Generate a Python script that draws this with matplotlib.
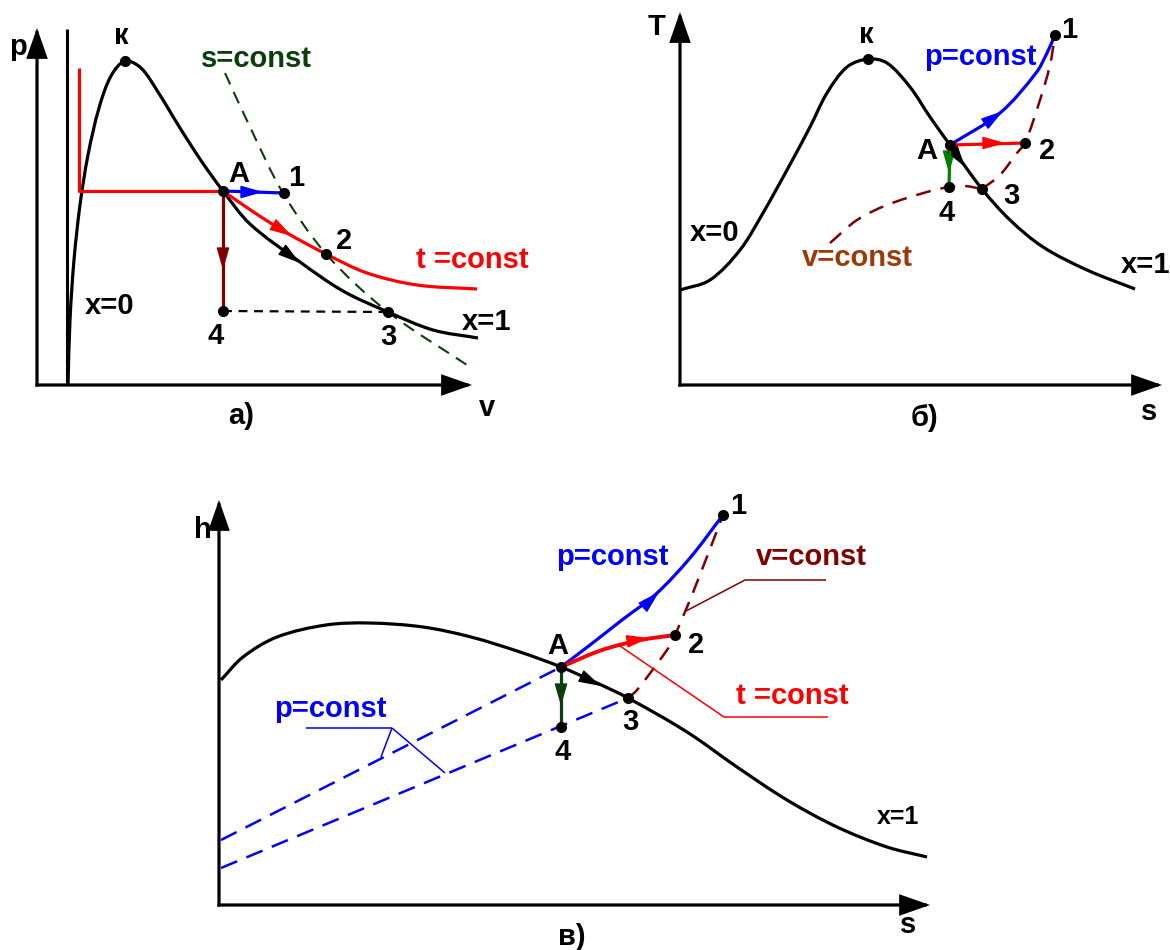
import numpy as np
import matplotlib.pyplot as plt
from matplotlib.path import Path
from matplotlib.patches import PathPatch, FancyArrowPatch

plt.rcParams['font.family'] = ['Liberation Sans', 'DejaVu Sans']

BLUE = '#0000ff'
RED = '#ff0000'
MAROON = '#800000'
DKGREEN = '#0c3d0c'
GREEN = '#008000'
BROWN = '#9c3a0a'

# ---- panel a) p-v ----
a_origin = (37, 385)
a_ytip, a_xtip = 28, 472
a_wall = [(67, 29), (67, 385)]
a_sat = [(68, 385), (70, 320), (74, 260), (80, 205), (88, 155), (99, 108), (111, 76),
         (125, 61), (141, 68), (158, 92), (180, 128), (202, 162), (223, 191),
         (250, 224), (300, 262), (343, 291), (388, 312), (433, 330), (478, 338)]
a_t_flat = [(79, 68), (79, 191), (223, 191)]
a_t_curve = [(223, 191), (255, 213), (287, 233), (326, 254), (367, 273), (417, 285), (477, 289)]
a_s_const = [(225, 73), (250, 127), (283, 193), (327, 255), (388, 312), (467, 365)]
a_pts = {'к': (125, 61), 'A': (223, 191), '1': (284, 193), '2': (326, 254),
         '3': (388, 312), '4': (223, 311)}

# ---- panel б) T-s ----
b_origin = (680, 385)
b_ytip, b_xtip = 12, 1162
b_sat = [(680, 290), (710, 280), (740, 250), (763, 213), (787, 170), (810, 127), (827, 93),
         (847, 67), (868, 59), (887, 63), (910, 87), (930, 117), (950, 145), (982, 189),
         (1010, 220), (1043, 247), (1087, 270), (1135, 289)]
b_p_const = [(950, 145), (1000, 113), (1036, 73), (1047, 53), (1055, 35)]
b_v_left = [(830, 243), (857, 220), (887, 205), (927, 192), (949, 187), (965, 186), (982, 189)]
b_v_right = [(982, 189), (1000, 175), (1017, 153), (1025, 143), (1040, 100), (1050, 65), (1055, 35)]
b_pts = {'к': (868, 59), 'A': (950, 145), '1': (1055, 35), '2': (1025, 143),
         '3': (982, 189), '4': (949, 187)}

# ---- panel в) h-s ----
c_origin = (219, 905)
c_ytip, c_xtip = 500, 930
c_sat = [(221, 680), (243, 657), (277, 637), (326, 625), (369, 623), (423, 627), (471, 637),
         (520, 652), (561, 667), (597, 683), (628, 698), (687, 732), (737, 767),
         (787, 800), (837, 827), (887, 847), (927, 857)]
c_p_const = [(561, 667), (590, 645), (622, 620), (656, 594), (690, 558), (723, 515)]
c_t_const = [(561, 667), (602, 650), (641, 640), (675, 635)]
c_v_const = [(628, 698), (637, 690), (667, 650), (675, 635), (694, 590), (723, 515)]
c_p_dash1 = [(221, 840), (561, 667)]
c_p_dash2 = [(221, 868), (628, 698)]
c_pts = {'A': (561, 667), '1': (723, 515), '2': (675, 635), '3': (628, 698), '4': (561, 727)}


def smooth(pts):
    # spline through the points (chord-length tangents), drawn by matplotlib as cubic beziers
    P = np.asarray(pts, float)
    n = len(P)
    d = np.hypot(*np.diff(P, axis=0).T)
    m = np.zeros_like(P)
    m[0] = (P[1] - P[0]) / d[0]
    m[-1] = (P[-1] - P[-2]) / d[-1]
    for i in range(1, n - 1):
        m[i] = (P[i + 1] - P[i - 1]) / (d[i - 1] + d[i])
    verts = [P[0]]
    codes = [Path.MOVETO]
    for i in range(n - 1):
        verts += [P[i] + m[i] * d[i] / 3, P[i + 1] - m[i + 1] * d[i] / 3, P[i + 1]]
        codes += [Path.CURVE4] * 3
    return Path(verts, codes)


def curve(ax, pts, color, lw=2.3, ls='-'):
    ax.add_patch(PathPatch(smooth(pts), fc='none', ec=color, lw=lw, ls=ls, capstyle='butt'))


def line(ax, pts, color, lw=2.3, ls='-'):
    pts = np.asarray(pts)
    ax.plot(pts[:, 0], pts[:, 1], color=color, lw=lw, ls=ls, solid_capstyle='butt')


def head(ax, tip, d, color, ms=20):
    d = np.asarray(d, float)
    d = d / np.hypot(*d)
    tip = np.asarray(tip, float)
    ax.add_patch(FancyArrowPatch(tip - 3 * d, tip, arrowstyle='-|>,head_length=0.7,head_width=0.2',
                                 mutation_scale=ms, color=color, lw=1, shrinkA=0, shrinkB=0))


def axes_arrows(ax, origin, ytip, xtip):
    x0, y0 = origin
    for tip in [(x0, ytip), (xtip, y0)]:
        ax.add_patch(FancyArrowPatch((x0, y0), tip, arrowstyle='-|>,head_length=0.8,head_width=0.28',
                                     mutation_scale=22, color='k', lw=2.3, shrinkA=0, shrinkB=0,
                                     joinstyle='miter', capstyle='projecting'))


def lab(ax, x, y, s, color='k', size=21):
    ax.text(x, y, s, color=color, fontsize=size, fontweight='bold', ha='center', va='center')


def dots(ax, pts):
    p = np.asarray(list(pts.values()))
    ax.plot(p[:, 0], p[:, 1], 'o', color='k', ms=7, zorder=5)


fig = plt.figure(figsize=(11.7, 9.5), dpi=100)
ax = fig.add_axes([0, 0, 1, 1])
ax.set_xlim(0, 1170)
ax.set_ylim(950, 0)
ax.axis('off')

# a)
axes_arrows(ax, a_origin, a_ytip, a_xtip)
line(ax, a_wall, 'k', lw=2.2)
curve(ax, a_s_const, DKGREEN, lw=1.5, ls=(0, (6, 4)))
curve(ax, a_sat, 'k')
line(ax, a_t_flat, RED)
curve(ax, a_t_curve, RED)
line(ax, [a_pts['A'], a_pts['1']], BLUE)
line(ax, [a_pts['A'], a_pts['4']], MAROON)
line(ax, [a_pts['4'], a_pts['3']], 'k', lw=1.6, ls=(0, (4, 3)))
head(ax, (263, 192), (1, 0), BLUE)
head(ax, (292, 236), (1, 0.6), RED)
head(ax, (300, 263), (1, 0.75), 'k')
head(ax, (223, 270), (0, 1), MAROON)
dots(ax, a_pts)
lab(ax, 18, 47, 'p')
lab(ax, 121, 36, 'к')
lab(ax, 256, 59, 's=const', DKGREEN)
lab(ax, 239, 174, 'A')
lab(ax, 296, 178, '1')
lab(ax, 344, 241, '2')
lab(ax, 472, 260, 't =const', RED)
lab(ax, 110, 306, 'x=0')
lab(ax, 216, 336, '4')
lab(ax, 388, 337, '3')
lab(ax, 487, 322, 'x=1')
lab(ax, 241, 416, 'а)')
lab(ax, 487, 408, 'v')

# б)
axes_arrows(ax, b_origin, b_ytip, b_xtip)
curve(ax, b_v_left, MAROON, lw=1.8, ls=(0, (6, 4)))
curve(ax, b_v_right, MAROON, lw=1.8, ls=(0, (6, 4)))
curve(ax, b_sat, 'k')
curve(ax, b_p_const, BLUE)
line(ax, [b_pts['A'], b_pts['2']], RED)
line(ax, [b_pts['A'], b_pts['4']], GREEN)
head(ax, (1003, 111), (1, -0.7), BLUE)
head(ax, (1005, 143), (1, 0), RED)
head(ax, (949, 173), (0, 1), GREEN)
head(ax, (965, 167), (0.7, 1), 'k')
dots(ax, b_pts)
lab(ax, 657, 27, 'T')
lab(ax, 866, 35, 'к')
lab(ax, 980, 57, 'p=const', BLUE)
lab(ax, 1069, 30, '1')
lab(ax, 927, 151, 'A')
lab(ax, 1047, 151, '2')
lab(ax, 1011, 196, '3')
lab(ax, 947, 213, '4')
lab(ax, 715, 233, 'x=0')
lab(ax, 857, 258, 'v=const', BROWN)
lab(ax, 1146, 265, 'x=1')
lab(ax, 925, 418, 'б)')
lab(ax, 1149, 412, 's')

# в)
axes_arrows(ax, c_origin, c_ytip, c_xtip)
line(ax, c_p_dash1, BLUE, lw=1.8, ls=(0, (7, 4)))
line(ax, c_p_dash2, BLUE, lw=1.8, ls=(0, (7, 4)))
curve(ax, c_v_const, MAROON, lw=1.8, ls=(0, (6, 4)))
curve(ax, c_sat, 'k')
curve(ax, c_p_const, BLUE)
curve(ax, c_t_const, RED, lw=2.8)
line(ax, [c_pts['A'], c_pts['4']], DKGREEN)
# leaders
line(ax, [(686, 611), (745, 580), (826, 580)], MAROON, lw=1.1)
line(ax, [(620, 646), (724, 717), (828, 717)], RED, lw=1.1)
line(ax, [(306, 728), (392, 728)], BLUE, lw=1.1)
line(ax, [(392, 728), (381, 757)], BLUE, lw=1.1)
line(ax, [(392, 728), (445, 773)], BLUE, lw=1.1)
head(ax, (659, 592), (1, -0.95), BLUE)
head(ax, (649, 638), (1, -0.15), RED)
head(ax, (561, 706), (0, 1), DKGREEN)
head(ax, (601, 686), (1, 0.5), 'k')
dots(ax, c_pts)
lab(ax, 203, 530, 'h')
lab(ax, 612, 557, 'p=const', BLUE)
lab(ax, 811, 557, 'v=const', MAROON)
lab(ax, 738, 506, '1')
lab(ax, 696, 645, '2')
lab(ax, 558, 646, 'A')
lab(ax, 630, 722, '3')
lab(ax, 563, 752, '4')
lab(ax, 792, 696, 't =const', RED)
lab(ax, 330, 709, 'p=const', BLUE)
lab(ax, 898, 817, 'x=1', size=18)
lab(ax, 572, 937, 'в)')
lab(ax, 908, 925, 's')

fig.savefig('out.png', dpi=100)
